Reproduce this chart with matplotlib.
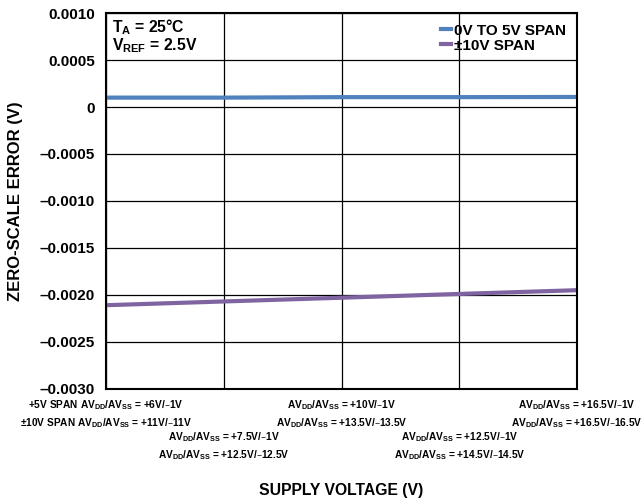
import matplotlib
matplotlib.use("Agg")
import matplotlib.pyplot as plt
from matplotlib.ticker import FuncFormatter

plt.rcParams['font.family'] = ['Liberation Sans', 'DejaVu Sans']
plt.rcParams['font.weight'] = 'bold'
plt.rcParams['axes.labelweight'] = 'bold'
plt.rcParams['mathtext.default'] = 'regular'

# supply configurations (x positions 0..4)
supply = [0, 1, 2, 3, 4]
supply_labels = [
    "+5V SPAN AV$_{DD}$/AV$_{SS}$ = +6V/\u20131V\n\u00b110V SPAN AV$_{DD}$/AV$_{SS}$ = +11V/\u201311V",
    "AV$_{DD}$/AV$_{SS}$ = +7.5V/\u20131V\nAV$_{DD}$/AV$_{SS}$ = +12.5V/\u201312.5V",
    "AV$_{DD}$/AV$_{SS}$ = +10V/\u20131V\nAV$_{DD}$/AV$_{SS}$ = +13.5V/\u201313.5V",
    "AV$_{DD}$/AV$_{SS}$ = +12.5V/\u20131V\nAV$_{DD}$/AV$_{SS}$ = +14.5V/\u201314.5V",
    "AV$_{DD}$/AV$_{SS}$ = +16.5V/\u20131V\nAV$_{DD}$/AV$_{SS}$ = +16.5V/\u201316.5V",
]
span_0_5 = [0.000100, 0.000100, 0.000105, 0.000105, 0.000107]
span_pm10 = [-0.00211, -0.00207, -0.00203, -0.00199, -0.00195]

fig = plt.figure(figsize=(6.42, 5.03), dpi=100)
ax = fig.add_axes([0.165, 0.227, 0.734, 0.747])

ax.plot(supply, span_0_5, color='#4f81bd', lw=3, label='0V TO 5V SPAN')
ax.plot(supply, span_pm10, color='#8064a2', lw=3, label='\u00b110V SPAN')

ax.set_xlim(0, 4)
ax.set_ylim(-0.0030, 0.0010)
ax.set_yticks([0.0010, 0.0005, 0, -0.0005, -0.0010, -0.0015, -0.0020, -0.0025, -0.0030])
ax.yaxis.set_major_formatter(FuncFormatter(
    lambda v, p: '0' if abs(v) < 1e-9 else ('%.4f' % v).replace('-', '\u2013')))
ax.set_xticks(supply, supply_labels, fontsize=7.3, fontweight='bold', linespacing=1.4)
for i, t in enumerate(ax.xaxis.get_major_ticks()):
    t.set_pad(7 if i % 2 == 0 else 30)
ax.tick_params(axis='both', length=0)
ax.tick_params(axis='y', labelsize=11, pad=8)

ax.grid(True, color='black', lw=0.9)
for s in ax.spines.values():
    s.set_linewidth(1.5)

ax.set_ylabel('ZERO-SCALE ERROR (V)', fontsize=12, labelpad=12)
fig.text(0.531, 0.025, 'SUPPLY VOLTAGE (V)', ha='center', va='center', fontsize=11.3)

ax.text(0.012, 0.99, 'T$_{A}$ = 25\u00b0C\nV$_{REF}$ = 2.5V', transform=ax.transAxes,
        ha='left', va='top', fontsize=11.3, linespacing=0.95)

ax.legend(loc='upper right', frameon=False, fontsize=11, handlelength=0.6,
          handletextpad=0.25, labelspacing=0.05, borderaxespad=0.3)

fig.savefig('out.png', dpi=100)
